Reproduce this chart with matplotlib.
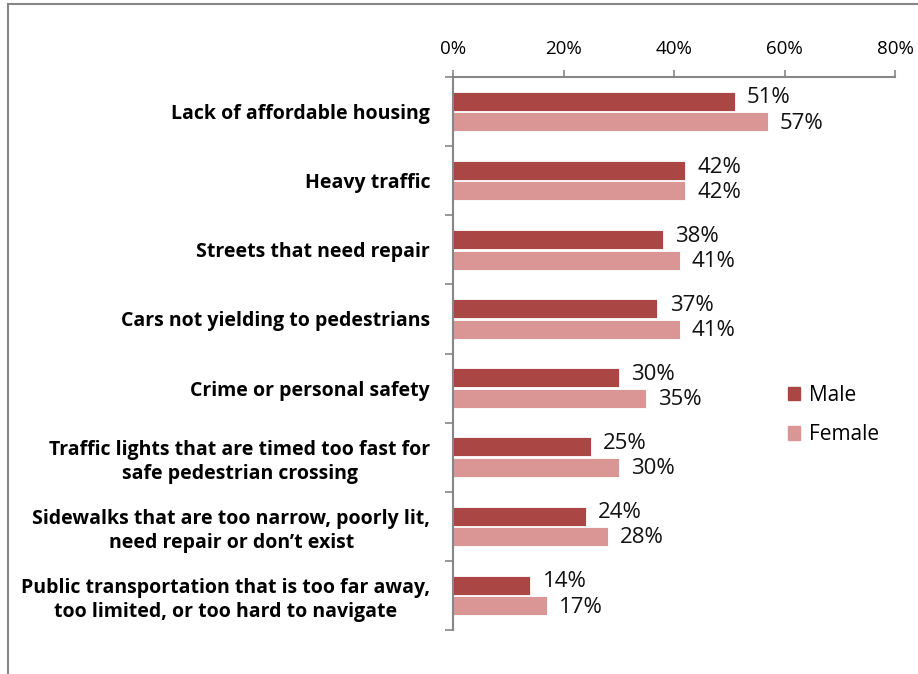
import numpy as np
import matplotlib.pyplot as plt
from matplotlib.patches import Patch
from matplotlib.lines import Line2D

categories = [
    "Lack of affordable housing",
    "Heavy traffic",
    "Streets that need repair",
    "Cars not yielding to pedestrians",
    "Crime or personal safety",
    "Traffic lights that are timed too fast for\nsafe pedestrian crossing",
    "Sidewalks that are too narrow, poorly lit,\nneed repair or don\u2019t exist",
    "Public transportation that is too far away,\ntoo limited, or too hard to navigate",
]
male = [51, 42, 38, 37, 30, 25, 24, 14]
female = [57, 42, 41, 41, 35, 30, 28, 17]
xticks = [0, 20, 40, 60, 80]

male_color = "#AA4643"
female_color = "#D99694"
axis_gray = "#868686"

fig = plt.figure(figsize=(9.18, 6.74), dpi=100)
ax = fig.add_axes([453 / 918, 1 - 630 / 674, (895 - 453) / 918, (630 - 77) / 674])

y = np.arange(len(categories))
h = 0.275
gap = 0.02
bm = ax.barh(y - h / 2 - gap / 2, male, height=h, color=male_color,
             edgecolor="white", linewidth=0.6)
bf = ax.barh(y + h / 2 + gap / 2, female, height=h, color=female_color,
             edgecolor="white", linewidth=0.6)

# value labels, nudged apart so the pairs don't collide
for bars, vals, dy in ((bm, male, -0.05), (bf, female, 0.02)):
    for b, v in zip(bars, vals):
        ax.text(v + 2.2, b.get_y() + b.get_height() / 2 + dy, f"{v}%",
                va="center", ha="left", fontsize=16, family="Open Sans",
                color="#111111")

ax.set_xlim(0, 80)
ax.set_ylim(len(categories) - 0.5, -0.5)
ax.xaxis.tick_top()
ax.set_xticks(xticks)
ax.set_xticklabels([f"{t}%" for t in xticks], fontsize=13.5, family="Open Sans")
ax.tick_params(axis="x", direction="out", length=5, color=axis_gray, width=1.2, pad=9)

# categories sit between the boundary ticks on the y axis
ax.set_yticks(y)
ax.set_yticklabels(categories, fontsize=14, fontweight="bold",
                   family="Open Sans", linespacing=1.3)
for lbl in ax.get_yticklabels():
    lbl.set_multialignment("center")
ax.tick_params(axis="y", which="major", length=0, pad=16.5)
ax.set_yticks(np.arange(len(categories) + 1) - 0.5, minor=True)
ax.tick_params(axis="y", which="minor", length=6, color=axis_gray, width=1.2)

for s in ("right", "bottom"):
    ax.spines[s].set_visible(False)
for s in ("top", "left"):
    ax.spines[s].set_color(axis_gray)
    ax.spines[s].set_linewidth(1.5)

# outer chart frame (top and left edges)
fig.add_artist(Line2D([8 / 918, 1], [1 - 4 / 674] * 2, color=axis_gray, lw=1.5))
fig.add_artist(Line2D([8 / 918] * 2, [0, 1 - 4 / 674], color=axis_gray, lw=1.5))

handles = [Patch(color=male_color, label="Male"), Patch(color=female_color, label="Female")]
fig.legend(handles=handles, loc="center left", bbox_to_anchor=(769 / 918, 1 - 415 / 674),
           frameon=False, prop={"family": "Open Sans", "size": 15},
           handlelength=0.6, handleheight=0.6, handletextpad=0.4, labelspacing=0.9)

fig.savefig("out.png", dpi=100)
